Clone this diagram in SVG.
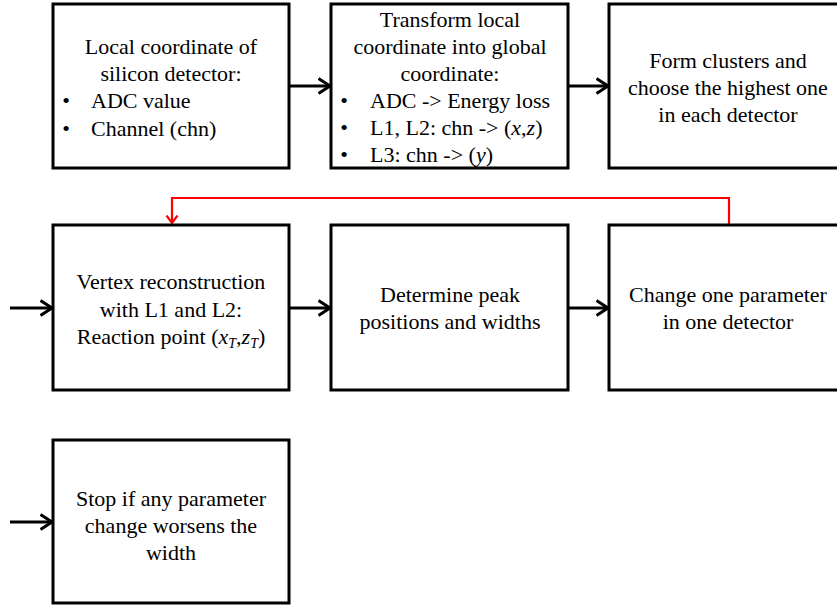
<svg xmlns="http://www.w3.org/2000/svg" width="837" height="608" viewBox="0 0 837 608">
  <defs>
    <style>
      .box { fill: #ffffff; stroke: #000000; stroke-width: 3; }
      .t { font-family: "Liberation Serif", "Times New Roman", serif; font-size: 22px; fill: #000000; }
      .c { text-anchor: middle; }
      .it { font-style: italic; }
      .sub { font-size: 14px; font-style: italic; }
      .link { fill: none; stroke: #000000; stroke-width: 3; }
      .loop { fill: none; stroke: #ff0000; stroke-width: 2.2; }
    </style>
    <marker id="arrowBlack" markerUnits="userSpaceOnUse" viewBox="0 0 14 18" refX="12.5" refY="9" markerWidth="14" markerHeight="18" orient="auto">
      <polyline points="1,1.5 12.5,9 1,16.5" fill="none" stroke="#000000" stroke-width="3"/>
    </marker>
    <marker id="arrowRed" markerUnits="userSpaceOnUse" viewBox="0 0 10 14" refX="8.5" refY="7" markerWidth="10" markerHeight="14" orient="auto">
      <polyline points="1,1.5 8.5,7 1,12.5" fill="none" stroke="#ff0000" stroke-width="2.2"/>
    </marker>
  </defs>

  <!-- connectors -->
  <g id="connectors">
    <line class="link" x1="289" y1="86" x2="330" y2="86" marker-end="url(#arrowBlack)"/>
    <line class="link" x1="568" y1="86" x2="608" y2="86" marker-end="url(#arrowBlack)"/>
    <line class="link" x1="10" y1="308" x2="52" y2="308" marker-end="url(#arrowBlack)"/>
    <line class="link" x1="289" y1="308" x2="330" y2="308" marker-end="url(#arrowBlack)"/>
    <line class="link" x1="568" y1="308" x2="608" y2="308" marker-end="url(#arrowBlack)"/>
    <line class="link" x1="10" y1="522" x2="52" y2="522" marker-end="url(#arrowBlack)"/>
    <polyline class="loop" points="729,225 729,198 172,198 172,223" marker-end="url(#arrowRed)"/>
  </g>

  <!-- row 1 -->
  <g id="local-coordinate">
    <rect class="box" x="53" y="4" width="236" height="164"/>
    <text class="t c" x="171" y="54">Local coordinate of</text>
    <text class="t c" x="171" y="81">silicon detector:</text>
    <text class="t c" x="66" y="108">•</text>
    <text class="t" x="91" y="108">ADC value</text>
    <text class="t c" x="66" y="136">•</text>
    <text class="t" x="91" y="136">Channel (chn)</text>
  </g>

  <g id="transform-global">
    <rect class="box" x="331" y="4" width="237" height="164"/>
    <text class="t c" x="450" y="27">Transform local</text>
    <text class="t c" x="450" y="54">coordinate into global</text>
    <text class="t c" x="450" y="81">coordinate:</text>
    <text class="t c" x="344" y="108">•</text>
    <text class="t" x="370" y="108">ADC -&gt; Energy loss</text>
    <text class="t c" x="344" y="135">•</text>
    <text class="t" x="370" y="135">L1, L2: chn -&gt; (<tspan class="it">x</tspan>,<tspan class="it">z</tspan>)</text>
    <text class="t c" x="344" y="162">•</text>
    <text class="t" x="370" y="162">L3: chn -&gt; (<tspan class="it">y</tspan>)</text>
  </g>

  <g id="form-clusters">
    <rect class="box" x="609" y="4" width="238" height="164"/>
    <text class="t c" x="728" y="68">Form clusters and</text>
    <text class="t c" x="728" y="95">choose the highest one</text>
    <text class="t c" x="728" y="122">in each detector</text>
  </g>

  <!-- row 2 -->
  <g id="vertex-reconstruction">
    <rect class="box" x="53" y="225" width="236" height="165"/>
    <text class="t c" x="171" y="289">Vertex reconstruction</text>
    <text class="t c" x="171" y="317">with L1 and L2:</text>
    <text class="t c" x="171" y="344">Reaction point (<tspan class="it">x</tspan><tspan class="sub" dy="4">T</tspan><tspan dy="-4">,</tspan><tspan class="it">z</tspan><tspan class="sub" dy="4">T</tspan><tspan dy="-4">)</tspan></text>
  </g>

  <g id="peak-widths">
    <rect class="box" x="331" y="225" width="237" height="165"/>
    <text class="t c" x="450" y="302">Determine peak</text>
    <text class="t c" x="450" y="329">positions and widths</text>
  </g>

  <g id="change-parameter">
    <rect class="box" x="609" y="225" width="238" height="165"/>
    <text class="t c" x="728" y="302">Change one parameter</text>
    <text class="t c" x="728" y="329">in one detector</text>
  </g>

  <!-- row 3 -->
  <g id="stop-condition">
    <rect class="box" x="53" y="440" width="236" height="163"/>
    <text class="t c" x="171" y="506">Stop if any parameter</text>
    <text class="t c" x="171" y="533">change worsens the</text>
    <text class="t c" x="171" y="560">width</text>
  </g>
</svg>
